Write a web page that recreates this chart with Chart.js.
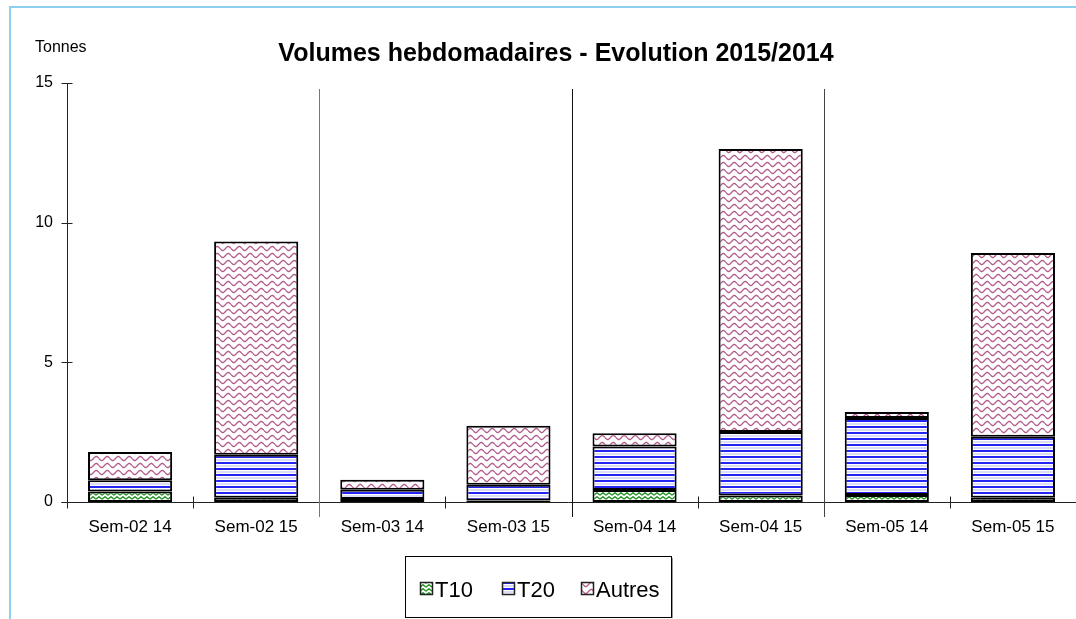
<!DOCTYPE html>
<html>
<head>
<meta charset="utf-8">
<script src="https://cdn.jsdelivr.net/npm/chart.js@4.4.1/dist/chart.umd.min.js"></script>
<style>
    body { margin: 0; background: #fff; }
    #wrap { width: 1076px; height: 619px; position: relative; }
</style>
</head>
<body>
<div id="wrap"><canvas id="c"></canvas></div>
<script>
const categories = ["Sem-02 14", "Sem-02 15", "Sem-03 14", "Sem-03 15", "Sem-04 14", "Sem-04 15", "Sem-05 14", "Sem-05 15"];
const t10 = [0.38, 0.15, 0.11, 0.05, 0.43, 0.23, 0.25, 0.15];
const t20 = [0.40, 1.54, 0.33, 0.57, 1.56, 2.28, 2.76, 2.19];
const autres = [1.01, 7.64, 0.36, 2.11, 0.47, 10.13, 0.21, 6.57];
const yTicks = [0, 5, 10, 15];
const titleText = "Volumes hebdomadaires - Evolution 2015/2014";
const unitText = "Tonnes";

const canvas = document.getElementById("c");
const ctx = canvas.getContext("2d");

function makeTile(w, h, draw) {
    const t = document.createElement("canvas");
    t.width = w;
    t.height = h;
    const c = t.getContext("2d");
    c.fillStyle = "#fff";
    c.fillRect(0, 0, w, h);
    draw(c);
    return ctx.createPattern(t, "repeat");
}

// green zigzag hatch
const greenPat = makeTile(6, 4, function (c) {
    c.strokeStyle = "#2f962f";
    c.lineWidth = 1.4;
    c.beginPath();
    c.moveTo(0, 3.3);
    c.lineTo(3, 0.7);
    c.lineTo(6, 3.3);
    c.stroke();
});

// blue horizontal lines
const bluePat = makeTile(8, 6, function (c) {
    c.fillStyle = "#2424f4";
    c.fillRect(0, 0, 8, 2);
    c.fillStyle = "#dcdcf6";
    c.fillRect(0, 3, 8, 2);
});

// mauve waves
const wavePat = makeTile(11, 7, function (c) {
    c.strokeStyle = "#b25a8c";
    c.lineWidth = 1.3;
    c.beginPath();
    for (let x = 0; x <= 11; x += 0.5) {
        const y = 3.5 + 2 * Math.sin(2 * Math.PI * x / 11);
        if (x === 0) c.moveTo(x, y); else c.lineTo(x, y);
    }
    c.stroke();
});

const decor = {
    id: "decor",
    beforeDraw(chart) {
        const c = chart.ctx;
        c.save();
        c.fillStyle = "#fff";
        c.fillRect(0, 0, chart.width, chart.height);
        c.fillStyle = "#8ed0f0";
        c.fillRect(9, 6, 2, chart.height);
        c.fillRect(9, 6, chart.width, 2);
        c.restore();
    },
    afterDraw(chart) {
        const c = chart.ctx;
        const xs = chart.scales.x;
        const ys = chart.scales.y;
        const area = chart.chartArea;
        const left = Math.round(area.left) + 0.5;
        const bottom = Math.round(area.bottom) + 0.5;
        c.save();

        // axes
        c.strokeStyle = "#222";
        c.lineWidth = 1;
        c.beginPath();
        c.moveTo(left, Math.round(area.top) + 0.5);
        c.lineTo(left, bottom);
        c.moveTo(left - 6, bottom);
        c.lineTo(area.right, bottom);
        yTicks.forEach(v => {
            const y = Math.round(ys.getPixelForValue(v)) + 0.5;
            c.moveTo(left - 6, y);
            c.lineTo(left + 5, y);
        });
        for (let i = 0; i <= categories.length; i++) {
            const x = Math.round(xs.getPixelForValue(i - 0.5)) + 0.5;
            c.moveTo(x, bottom - 6);
            c.lineTo(x, bottom + 6);
        }
        c.stroke();

        // week separators
        const sepColors = ["#777", "#111", "#444"];
        [2, 4, 6].forEach((i, k) => {
            const x = Math.round(xs.getPixelForValue(i - 0.5)) + 0.5;
            c.strokeStyle = sepColors[k];
            c.beginPath();
            c.moveTo(x, 89);
            c.lineTo(x, 517);
            c.stroke();
        });

        // title and unit
        c.fillStyle = "#000";
        c.textAlign = "center";
        c.textBaseline = "alphabetic";
        c.font = "bold 25px 'Liberation Sans', Arial, sans-serif";
        c.fillText(titleText, 556, 61);
        c.textAlign = "left";
        c.font = "16px 'Liberation Sans', Arial, sans-serif";
        c.fillText(unitText, 35, 52);

        // legend
        c.strokeStyle = "#000";
        c.strokeRect(405.5, 556.5, 266, 61);
        c.fillStyle = "#999";
        c.fillRect(672, 558, 1, 60);
        c.font = "22px 'Liberation Sans', Arial, sans-serif";
        const boxX = [420, 502, 581];
        chart.data.datasets.forEach((ds, i) => {
            c.fillStyle = ds.backgroundColor;
            c.fillRect(boxX[i], 582, 13, 13);
            c.strokeStyle = "#222";
            c.lineWidth = 1.5;
            c.strokeRect(boxX[i] + 0.5, 582.5, 12, 12);
            c.fillStyle = "#000";
            c.fillText(ds.label, boxX[i] + 15, 597);
        });
        c.restore();
    }
};

function series(label, data, pattern) {
    return {
        label: label,
        data: data,
        backgroundColor: pattern,
        borderColor: "#000",
        borderWidth: 2,
        borderSkipped: false,
        categoryPercentage: 1,
        barPercentage: 0.667
    };
}

new Chart(canvas, {
    type: "bar",
    data: {
        labels: categories,
        datasets: [
            series("T10", t10, greenPat),
            series("T20", t20, bluePat),
            series("Autres", autres, wavePat)
        ]
    },
    options: {
        responsive: true,
        maintainAspectRatio: false,
        animation: false,
        layout: { padding: { top: 83, right: 0, left: 0, bottom: 0 } },
        plugins: {
            legend: { display: false },
            title: { display: false },
            tooltip: { enabled: false }
        },
        scales: {
            x: {
                stacked: true,
                grid: { display: false, drawTicks: false },
                border: { display: false },
                ticks: {
                    color: "#000",
                    padding: 15,
                    maxRotation: 0,
                    font: { family: "'Liberation Sans', Arial, sans-serif", size: 17 }
                },
                afterFit(scale) { scale.height = 117; }
            },
            y: {
                stacked: true,
                min: 0,
                max: 15,
                grid: { display: false, drawTicks: false },
                border: { display: false },
                ticks: {
                    stepSize: 5,
                    color: "#000",
                    padding: 14,
                    font: { family: "'Liberation Sans', Arial, sans-serif", size: 16 }
                },
                afterFit(scale) { scale.width = 67; }
            }
        }
    },
    plugins: [decor]
});
</script>
</body>
</html>
